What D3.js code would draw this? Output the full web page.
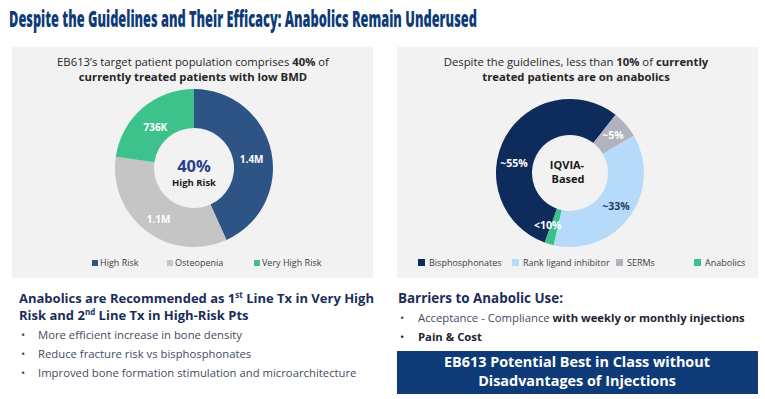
<!DOCTYPE html>
<html>
<head>
<meta charset="utf-8">
<script src="https://cdn.jsdelivr.net/npm/d3@7"></script>
<style>
  body { margin: 0; background: #fff; }
  svg text { font-family: "Open Sans", "Noto Sans", sans-serif; }
</style>
</head>
<body>
<svg id="chart" width="765" height="399"></svg>
<script>
// left donut: treated patients with low BMD
const riskGroups = ["High Risk", "Osteopenia", "Very High Risk"];
const riskPatients = [1400000, 1100000, 736000];
const riskLabels = ["1.4M", "1.1M", "736K"];

// right donut: treatment share (legend order)
const drugClasses = ["Bisphosphonates", "Rank ligand inhibitor", "SERMs", "Anabolics"];
const drugShare = [55, 37, 6, 2];
const drugLabels = ["~55%", "~33%", "~5%", "<10%"];
// order the slices run clockwise round the ring
const ringOrder = ["Bisphosphonates", "SERMs", "Rank ligand inhibitor", "Anabolics"];

const guidelineBullets = [
  "More efficient increase in bone density",
  "Reduce fracture risk vs bisphosphonates",
  "Improved bone formation stimulation and microarchitecture"
];

const svg = d3.select("#chart");
const navy = "#0e3b77";
const deg = Math.PI / 180;

// helper: one line of text made of plain / bold pieces
function richLine(g, x, y, parts, opt) {
  const t = g.append("text")
    .attr("x", x).attr("y", y)
    .attr("text-anchor", opt.anchor || "start")
    .attr("font-size", opt.size)
    .attr("fill", opt.fill);
  parts.forEach(p => {
    t.append("tspan")
      .attr("font-weight", p[1] ? 700 : 400)
      .attr("fill", p[2] || null)
      .text(p[0]);
  });
  return t;
}

// page title - squeezed horizontally to the narrow slide font
const title = svg.append("text")
  .attr("font-family", "Lato, sans-serif")
  .attr("font-weight", 900)
  .attr("font-size", 22)
  .attr("fill", navy)
  .text("Despite the Guidelines and Their Efficacy: Anabolics Remain Underused");
const titleW = title.node().getComputedTextLength();
title.attr("transform", "translate(9,27) scale(" + Math.min(1, 468 / titleW) + ",1)");

// grey panels
svg.append("rect").attr("x", 12).attr("y", 47).attr("width", 361).attr("height", 231).attr("fill", "#f2f2f2");
svg.append("rect").attr("x", 397).attr("y", 47).attr("width", 361).attr("height", 231).attr("fill", "#f2f2f2");

const panelFont = 11.3;

// ---------- left donut ----------
const left = svg.append("g");
richLine(left, 193, 66, [["EB613\u2019s target patient population comprises ", false], ["40%", true], [" of", false]],
  {anchor: "middle", size: panelFont, fill: "#262626"});
richLine(left, 193, 81, [["currently treated patients with low BMD", true]],
  {anchor: "middle", size: panelFont, fill: "#262626"});

const riskColor = d3.scaleOrdinal().domain(riskGroups).range(["#2e5385", "#c5c5c5", "#3ec28c"]);
const riskData = riskGroups.map((g, i) => ({name: g, value: riskPatients[i], label: riskLabels[i]}));

const riskPie = d3.pie().sort(null).value(d => d.value);
const riskArc = d3.arc().innerRadius(40).outerRadius(79);
const riskLabelArc = d3.arc().innerRadius(59).outerRadius(59);

const lg = left.append("g").attr("transform", "translate(194,168)");
lg.selectAll("path")
  .data(riskPie(riskData))
  .enter().append("path")
  .attr("d", riskArc)
  .attr("fill", d => riskColor(d.data.name));

lg.selectAll(".lbl")
  .data(riskPie(riskData))
  .enter().append("text")
  .attr("class", "lbl")
  .attr("transform", d => {
    const c = riskLabelArc.centroid(d);
    return "translate(" + c[0] + "," + (c[1] + 4) + ")";
  })
  .attr("dy", "0.35em")
  .attr("text-anchor", "middle")
  .attr("font-size", 10)
  .attr("font-weight", 700)
  .attr("fill", "#fff")
  .text(d => d.data.label);

lg.append("text").attr("y", 4).attr("text-anchor", "middle")
  .attr("font-size", 16.5).attr("font-weight", 700).attr("fill", "#2b3f8e").text("40%");
lg.append("text").attr("y", 17.5).attr("text-anchor", "middle")
  .attr("font-size", 9.5).attr("font-weight", 700).attr("fill", "#1a1a1a").text("High Risk");

// legend
const riskLegendX = [92, 167, 254];
riskGroups.forEach((g, i) => {
  left.append("rect").attr("x", riskLegendX[i]).attr("y", 260).attr("width", 6).attr("height", 6)
    .attr("fill", riskColor(g));
  left.append("text").attr("x", riskLegendX[i] + 8).attr("y", 266)
    .attr("font-size", 9).attr("fill", "#404040").text(g);
});

// ---------- right donut ----------
const right = svg.append("g");
richLine(right, 576, 66, [["Despite the guidelines, less than ", false], ["10%", true], [" of ", false], ["currently", true]],
  {anchor: "middle", size: panelFont, fill: "#262626"});
richLine(right, 576, 81, [["treated patients are on anabolics", true]],
  {anchor: "middle", size: panelFont, fill: "#262626"});

const drugColor = d3.scaleOrdinal().domain(drugClasses).range(["#0d2b5b", "#b6dafa", "#b1b4be", "#3cc08a"]);
const drugLabelColor = {"Rank ligand inhibitor": "#1f3a6a"};
const drugData = drugClasses.map((c, i) => ({name: c, value: drugShare[i], label: drugLabels[i]}));

const drugPie = d3.pie()
  .sort((a, b) => ringOrder.indexOf(a.name) - ringOrder.indexOf(b.name))
  .value(d => d.value)
  .startAngle(-160 * deg)
  .endAngle(200 * deg);
const drugArc = d3.arc().innerRadius(38).outerRadius(74);
// a few labels sit away from the slice middle, as in the original slide
const labelAngle = {"Bisphosphonates": -80, "Anabolics": 203};

const rg = right.append("g").attr("transform", "translate(570,173)");
rg.selectAll("path")
  .data(drugPie(drugData))
  .enter().append("path")
  .attr("d", drugArc)
  .attr("fill", d => drugColor(d.data.name));

rg.selectAll(".lbl")
  .data(drugPie(drugData))
  .enter().append("text")
  .attr("class", "lbl")
  .attr("transform", d => {
    const a = d.data.name in labelAngle ? labelAngle[d.data.name] * deg : (d.startAngle + d.endAngle) / 2;
    return "translate(" + d3.pointRadial(a, 57) + ")";
  })
  .attr("dy", "0.35em")
  .attr("text-anchor", "middle")
  .attr("font-size", 10.5)
  .attr("font-weight", 700)
  .attr("fill", d => drugLabelColor[d.data.name] || "#fff")
  .text(d => d.data.label);

rg.append("text").attr("x", -3).attr("y", -4).attr("text-anchor", "middle")
  .attr("font-size", 11).attr("font-weight", 700).attr("fill", "#1a1a1a").text("IQVIA-");
rg.append("text").attr("x", -2).attr("y", 10).attr("text-anchor", "middle")
  .attr("font-size", 11).attr("font-weight", 700).attr("fill", "#1a1a1a").text("Based");

const drugLegendX = [418, 512, 616, 694];
drugClasses.forEach((c, i) => {
  right.append("rect").attr("x", drugLegendX[i]).attr("y", 259).attr("width", 7).attr("height", 7)
    .attr("fill", drugColor(c));
  right.append("text").attr("x", drugLegendX[i] + 11).attr("y", 266)
    .attr("font-size", 9).attr("fill", "#404040").text(c);
});

// ---------- bottom left text ----------
const bl = svg.append("g");
const headColor = "#1b2e5a";
const h1 = bl.append("text").attr("x", 19).attr("y", 303)
  .attr("font-size", 13).attr("font-weight", 700).attr("fill", headColor);
h1.append("tspan").text("Anabolics are Recommended as 1");
h1.append("tspan").attr("font-size", 8).attr("dy", -5).text("st");
h1.append("tspan").attr("dy", 5).text(" Line Tx in Very High");
const h2 = bl.append("text").attr("x", 19).attr("y", 320)
  .attr("font-size", 13).attr("font-weight", 700).attr("fill", headColor);
h2.append("tspan").text("Risk and 2");
h2.append("tspan").attr("font-size", 8).attr("dy", -5).text("nd");
h2.append("tspan").attr("dy", 5).text(" Line Tx in High-Risk Pts");

guidelineBullets.forEach((b, i) => {
  const y = 339 + i * 19;
  bl.append("text").attr("x", 21).attr("y", y).attr("font-size", 11.3).attr("fill", "#3f4b63").text("\u2022");
  bl.append("text").attr("x", 38).attr("y", y).attr("font-size", 11.3).attr("fill", "#3f4b63").text(b);
});

// ---------- bottom right text ----------
const br = svg.append("g");
br.append("text").attr("x", 398).attr("y", 303)
  .attr("font-size", 13.4).attr("font-weight", 700).attr("fill", headColor).text("Barriers to Anabolic Use:");
br.append("text").attr("x", 400).attr("y", 322).attr("font-size", 11.3).attr("fill", "#3f4b63").text("\u2022");
richLine(br, 418, 322, [["Acceptance - Compliance", false], [" with weekly or monthly injections", true, "#1f2533"]],
  {size: 11.3, fill: "#3f4b63"});
br.append("text").attr("x", 400).attr("y", 341).attr("font-size", 11.3).attr("fill", "#1f2533").text("\u2022");
br.append("text").attr("x", 418).attr("y", 341).attr("font-size", 11.3).attr("font-weight", 700)
  .attr("fill", "#1f2533").text("Pain & Cost");

br.append("rect").attr("x", 397).attr("y", 351).attr("width", 361).attr("height", 43).attr("fill", navy);
br.append("text").attr("x", 577).attr("y", 367).attr("text-anchor", "middle")
  .attr("font-size", 14.4).attr("font-weight", 700).attr("fill", "#fff").text("EB613 Potential Best in Class without");
br.append("text").attr("x", 577).attr("y", 386).attr("text-anchor", "middle")
  .attr("font-size", 14.4).attr("font-weight", 700).attr("fill", "#fff").text("Disadvantages of Injections");
</script>
</body>
</html>
